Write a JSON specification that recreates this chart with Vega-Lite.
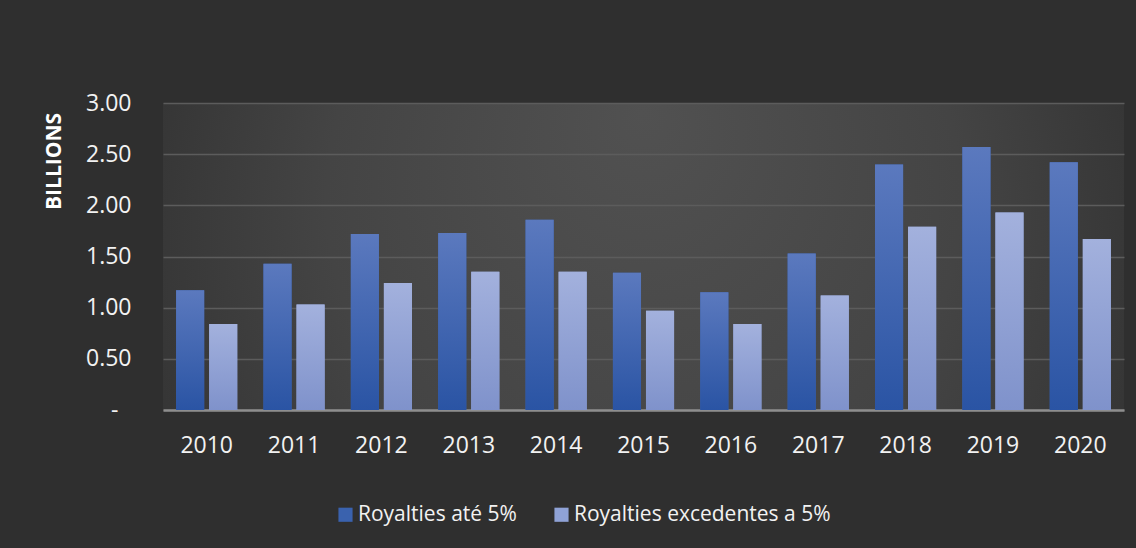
{
  "$schema": "https://vega.github.io/schema/vega-lite/v6.json",
  "width": 961,
  "height": 307,
  "autosize": "none",
  "padding": {"left": 163, "top": 103, "right": 12, "bottom": 138},
  "background": "#2f2f2f",
  "view": {
    "stroke": null,
    "fill": {
      "gradient": "radial",
      "x1": 0.5, "y1": 0.35, "r1": 0,
      "x2": 0.5, "y2": 0.5, "r2": 0.55,
      "stops": [
        {"offset": 0, "color": "#515151"},
        {"offset": 0.6, "color": "#444444"},
        {"offset": 1, "color": "#343434"}
      ]
    }
  },
  "config": {
    "font": "Open Sans",
    "axis": {"labelColor": "#f2f2f2", "labelFont": "Open Sans"},
    "legend": {"labelColor": "#f2f2f2"}
  },
  "data": {
    "values": [
      {"year": "2010", "series": "Royalties até 5%", "value": 1.17},
      {"year": "2010", "series": "Royalties excedentes a 5%", "value": 0.84},
      {"year": "2011", "series": "Royalties até 5%", "value": 1.43},
      {"year": "2011", "series": "Royalties excedentes a 5%", "value": 1.03},
      {"year": "2012", "series": "Royalties até 5%", "value": 1.72},
      {"year": "2012", "series": "Royalties excedentes a 5%", "value": 1.24},
      {"year": "2013", "series": "Royalties até 5%", "value": 1.73},
      {"year": "2013", "series": "Royalties excedentes a 5%", "value": 1.35},
      {"year": "2014", "series": "Royalties até 5%", "value": 1.86},
      {"year": "2014", "series": "Royalties excedentes a 5%", "value": 1.35},
      {"year": "2015", "series": "Royalties até 5%", "value": 1.34},
      {"year": "2015", "series": "Royalties excedentes a 5%", "value": 0.97},
      {"year": "2016", "series": "Royalties até 5%", "value": 1.15},
      {"year": "2016", "series": "Royalties excedentes a 5%", "value": 0.84},
      {"year": "2017", "series": "Royalties até 5%", "value": 1.53},
      {"year": "2017", "series": "Royalties excedentes a 5%", "value": 1.12},
      {"year": "2018", "series": "Royalties até 5%", "value": 2.40},
      {"year": "2018", "series": "Royalties excedentes a 5%", "value": 1.79},
      {"year": "2019", "series": "Royalties até 5%", "value": 2.57},
      {"year": "2019", "series": "Royalties excedentes a 5%", "value": 1.93},
      {"year": "2020", "series": "Royalties até 5%", "value": 2.42},
      {"year": "2020", "series": "Royalties excedentes a 5%", "value": 1.67}
    ]
  },
  "encoding": {
    "x": {
      "field": "year", "type": "nominal",
      "scale": {"paddingInner": 0.3, "paddingOuter": 0.15},
      "axis": {
        "title": null, "labelAngle": 0, "labelFontSize": 23, "labelPadding": 24,
        "ticks": false, "domainColor": "#8e8e8e", "domainWidth": 2.5, "grid": false
      }
    },
    "xOffset": {
      "field": "series", "type": "nominal",
      "sort": ["Royalties até 5%", "Royalties excedentes a 5%"],
      "scale": {"paddingInner": 0.15, "paddingOuter": 0}
    },
    "y": {
      "field": "value", "type": "quantitative",
      "scale": {"domain": [0, 3], "nice": false},
      "axis": {
        "title": "BILLIONS",
        "titleFontSize": 21, "titleFontWeight": "bold", "titleColor": "#ffffff",
        "titleAngle": 270, "titleAlign": "center", "titleBaseline": "middle",
        "titleX": -109, "titleY": 58,
        "values": [0, 0.5, 1, 1.5, 2, 2.5, 3],
        "labelExpr": "datum.value === 0 ? '-' : format(datum.value, '.2f')",
        "labelFontSize": 23,
        "labelPadding": {"condition": {"test": "datum.value === 0", "value": 45}, "value": 32},
        "ticks": false, "domain": false,
        "grid": true, "gridColor": "#5c5c5c", "gridWidth": 1.5
      }
    }
  },
  "layer": [
    {
      "mark": {"type": "bar"},
      "encoding": {
        "color": {
          "field": "series", "type": "nominal",
          "sort": ["Royalties até 5%", "Royalties excedentes a 5%"],
          "scale": {"range": ["#3a62ae", "#8fa2d6"]},
          "legend": {
            "title": null, "orient": "none", "legendX": 172, "legendY": 401,
            "direction": "horizontal", "symbolType": "square", "symbolSize": 200,
            "symbolStrokeWidth": 0, "labelFontSize": 21, "labelOffset": 2,
            "columnPadding": 34, "labelLimit": 400
          }
        }
      }
    },
    {
      "mark": {"type": "bar"},
      "encoding": {
        "fill": {
          "condition": {
            "test": "datum.series === 'Royalties até 5%'",
            "value": {
              "gradient": "linear", "x1": 0, "y1": 0, "x2": 0, "y2": 1,
              "stops": [
                {"offset": 0, "color": "#5b79be"},
                {"offset": 1, "color": "#2a54a4"}
              ]
            }
          },
          "value": {
            "gradient": "linear", "x1": 0, "y1": 0, "x2": 0, "y2": 1,
            "stops": [
              {"offset": 0, "color": "#a3b1dd"},
              {"offset": 1, "color": "#7f92cb"}
            ]
          }
        }
      }
    }
  ]
}
